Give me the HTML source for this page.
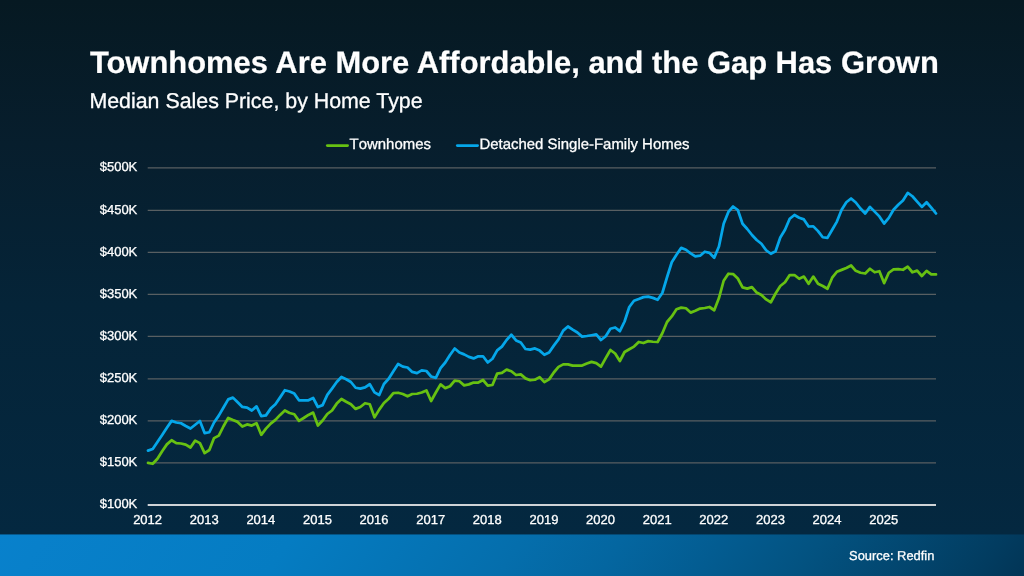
<!DOCTYPE html>
<html><head><meta charset="utf-8"><title>Townhomes Are More Affordable</title>
<style>
html,body{margin:0;padding:0;}
body{text-rendering:geometricPrecision;font-kerning:none;width:1024px;height:576px;overflow:hidden;position:relative;font-family:"Liberation Sans",sans-serif;color:#fff;
background:linear-gradient(180deg,#061922 0px,#071e2d 144px,#052438 304px,#042840 534px,#042840 576px);}
.footer{position:absolute;left:0;top:534px;width:1024px;height:42px;background:linear-gradient(125.0deg,rgb(8,129,204) 0%,rgb(8,128,202) 4.43%,rgb(5,124,194) 27.98%,rgb(5,110,172) 50.00%,rgb(4,102,160) 59.49%,rgb(3,92,145) 68.99%,rgb(3,82,128) 78.48%,rgb(2,60,96) 95.57%,rgb(2,53,86) 100%);}
.fedge{position:absolute;left:0;top:534px;width:1024px;height:1px;background:rgba(4,40,64,0.45);}
.txt{position:absolute;left:0;top:0;width:1024px;height:576px;opacity:0.999;will-change:opacity;}
.title{font-kerning:normal;position:absolute;left:89.9px;top:45.1px;font-size:30.92px;-webkit-text-stroke:0.22px #fff;font-weight:bold;white-space:nowrap;line-height:36px;}
.sub{font-kerning:normal;position:absolute;left:89.4px;top:87.65px;font-size:21.36px;-webkit-text-stroke:0.3px #fff;white-space:nowrap;line-height:26px;}
.leg{-webkit-text-stroke:0.3px #fff;position:absolute;top:136.3px;font-size:14.94px;line-height:18px;white-space:nowrap;}
.yl{-webkit-text-stroke:0.3px #fff;position:absolute;left:60px;width:77.3px;text-align:right;font-size:13px;line-height:16px;white-space:nowrap;}
.xl{-webkit-text-stroke:0.3px #fff;position:absolute;top:512.2px;width:60px;text-align:center;font-size:13px;line-height:16px;white-space:nowrap;}
.src{-webkit-text-stroke:0.3px #fff;position:absolute;left:849.1px;top:546.8px;font-size:12.9px;line-height:18px;white-space:nowrap;}
svg{position:absolute;left:0;top:0;}
</style></head><body>
<div class="footer"></div>
<div class="fedge"></div>
<div class="txt">
<div class="title">Townhomes Are More Affordable, and the Gap Has Grown</div>
<div class="sub">Median Sales Price, by Home Type</div>
<div class="leg" style="left:349.6px">Townhomes</div>
<div class="leg" style="left:479.4px">Detached Single-Family Homes</div>
<div class="yl" style="top:159.20px">$500K</div>
<div class="yl" style="top:201.80px">$450K</div>
<div class="yl" style="top:243.80px">$400K</div>
<div class="yl" style="top:285.80px">$350K</div>
<div class="yl" style="top:327.80px">$300K</div>
<div class="yl" style="top:370.30px">$250K</div>
<div class="yl" style="top:412.20px">$200K</div>
<div class="yl" style="top:454.20px">$150K</div>
<div class="yl" style="top:496.45px">$100K</div>
<div class="xl" style="left:117.60px">2012</div>
<div class="xl" style="left:174.22px">2013</div>
<div class="xl" style="left:230.85px">2014</div>
<div class="xl" style="left:287.47px">2015</div>
<div class="xl" style="left:344.09px">2016</div>
<div class="xl" style="left:400.71px">2017</div>
<div class="xl" style="left:457.34px">2018</div>
<div class="xl" style="left:513.96px">2019</div>
<div class="xl" style="left:570.58px">2020</div>
<div class="xl" style="left:627.20px">2021</div>
<div class="xl" style="left:683.83px">2022</div>
<div class="xl" style="left:740.45px">2023</div>
<div class="xl" style="left:797.07px">2024</div>
<div class="xl" style="left:853.70px">2025</div>
<div class="src">Source: Redfin</div>
</div>
<svg width="1024" height="576" viewBox="0 0 1024 576">
<line x1="147.7" x2="936.0" y1="167.75" y2="167.75" stroke="#585f62" stroke-width="1.25"/>
<line x1="147.7" x2="936.0" y1="210.35" y2="210.35" stroke="#585f62" stroke-width="1.25"/>
<line x1="147.7" x2="936.0" y1="252.35" y2="252.35" stroke="#585f62" stroke-width="1.25"/>
<line x1="147.7" x2="936.0" y1="294.35" y2="294.35" stroke="#585f62" stroke-width="1.25"/>
<line x1="147.7" x2="936.0" y1="336.35" y2="336.35" stroke="#585f62" stroke-width="1.25"/>
<line x1="147.7" x2="936.0" y1="378.85" y2="378.85" stroke="#585f62" stroke-width="1.25"/>
<line x1="147.7" x2="936.0" y1="420.75" y2="420.75" stroke="#585f62" stroke-width="1.25"/>
<line x1="147.7" x2="936.0" y1="462.75" y2="462.75" stroke="#585f62" stroke-width="1.25"/>
<line x1="147.7" x2="936.0" y1="505.0" y2="505.0" stroke="#cfd3d6" stroke-width="2.1"/>
<line x1="327.3" x2="347.6" y1="145.5" y2="145.5" stroke="#67c112" stroke-width="2.75" stroke-linecap="round"/>
<line x1="457.3" x2="477.6" y1="145.5" y2="145.5" stroke="#05a7ea" stroke-width="2.75" stroke-linecap="round"/>
<polyline fill="none" stroke="#67c112" stroke-width="2.75" stroke-linejoin="round" stroke-linecap="round" points="148.00,462.90 152.72,463.75 157.44,458.75 162.16,451.25 166.87,444.40 171.59,440.25 176.31,443.10 181.03,443.50 185.75,444.60 190.47,447.50 195.19,440.60 199.90,443.10 204.62,453.10 209.34,450.00 214.06,438.10 218.78,435.60 223.50,426.25 228.22,417.90 232.93,420.00 237.65,421.90 242.37,426.50 247.09,424.40 251.81,425.60 256.53,423.25 261.25,434.80 265.96,428.60 270.68,423.60 275.40,419.90 280.12,414.90 284.84,410.50 289.56,413.00 294.28,414.25 298.99,420.90 303.71,418.00 308.43,414.90 313.15,412.60 317.87,425.50 322.59,420.50 327.31,414.00 332.02,410.50 336.74,403.60 341.46,399.00 346.18,401.75 350.90,404.25 355.62,408.90 360.34,407.00 365.05,403.25 369.77,404.25 374.49,417.40 379.21,409.60 383.93,403.00 388.65,398.75 393.37,393.10 398.08,392.75 402.80,394.00 407.52,396.25 412.24,394.00 416.96,393.75 421.68,392.50 426.40,390.40 431.11,401.00 435.83,392.50 440.55,384.40 445.27,388.10 449.99,386.25 454.71,380.60 459.43,381.25 464.14,385.40 468.86,384.40 473.58,382.50 478.30,382.50 483.02,380.00 487.74,385.60 492.46,385.00 497.17,373.60 501.89,372.90 506.61,369.60 511.33,371.25 516.05,375.00 520.77,374.40 525.49,378.40 530.20,380.25 534.92,379.75 539.64,377.10 544.36,382.10 549.08,379.40 553.80,372.50 558.51,366.90 563.23,364.40 567.95,364.40 572.67,365.60 577.39,365.60 582.11,365.60 586.83,363.50 591.54,361.90 596.26,363.10 600.98,366.60 605.70,358.10 610.42,350.00 615.14,353.50 619.86,361.00 624.57,352.00 629.29,349.25 634.01,346.60 638.73,342.00 643.45,343.00 648.17,341.10 652.89,341.75 657.60,342.00 662.32,333.25 667.04,322.00 671.76,316.40 676.48,309.25 681.20,307.60 685.92,308.25 690.63,312.60 695.35,310.75 700.07,308.60 704.79,308.00 709.51,307.00 714.23,310.25 718.95,298.10 723.66,280.75 728.38,273.75 733.10,274.10 737.82,278.50 742.54,287.40 747.26,288.60 751.98,287.10 756.69,292.60 761.41,294.90 766.13,299.40 770.85,302.25 775.57,293.50 780.29,286.00 785.01,282.25 789.72,275.00 794.44,275.00 799.16,278.75 803.88,276.60 808.60,283.75 813.32,276.60 818.04,283.75 822.75,286.00 827.47,288.80 832.19,277.70 836.91,271.75 841.63,269.90 846.35,268.00 851.07,265.50 855.78,270.80 860.50,272.75 865.22,273.50 869.94,268.75 874.66,272.25 879.38,271.25 884.10,283.10 888.81,272.75 893.53,269.40 898.25,269.10 902.97,269.75 907.69,266.60 912.41,272.25 917.13,270.60 921.84,276.00 926.56,270.90 931.28,274.40 936.00,274.40"/>
<polyline fill="none" stroke="#05a7ea" stroke-width="2.75" stroke-linejoin="round" stroke-linecap="round" points="148.00,450.60 152.72,449.00 157.44,441.90 162.16,435.00 166.87,427.75 171.59,420.90 176.31,422.50 181.03,423.25 185.75,426.00 190.47,428.50 195.19,424.75 199.90,421.00 204.62,433.10 209.34,432.25 214.06,422.50 218.78,415.60 223.50,407.50 228.22,399.40 232.93,397.60 237.65,402.30 242.37,406.90 247.09,407.60 251.81,410.50 256.53,406.40 261.25,416.10 265.96,415.40 270.68,408.60 275.40,404.25 280.12,397.40 284.84,390.25 289.56,391.50 294.28,393.60 298.99,400.25 303.71,400.25 308.43,400.25 313.15,398.00 317.87,407.00 322.59,405.10 327.31,394.90 332.02,388.60 336.74,382.00 341.46,377.00 346.18,379.25 350.90,382.00 355.62,387.75 360.34,388.60 365.05,387.40 369.77,384.25 374.49,392.40 379.21,395.00 383.93,384.00 388.65,378.75 393.37,371.25 398.08,364.00 402.80,366.60 407.52,367.50 412.24,371.90 416.96,373.10 421.68,370.40 426.40,371.00 431.11,376.50 435.83,377.90 440.55,368.10 445.27,362.50 449.99,355.00 454.71,348.50 459.43,352.50 464.14,354.40 468.86,356.90 473.58,358.40 478.30,356.25 483.02,356.25 487.74,362.50 492.46,358.75 497.17,350.30 501.89,346.60 506.61,340.00 511.33,334.75 516.05,340.40 520.77,342.50 525.49,349.00 530.20,349.60 534.92,348.40 539.64,350.60 544.36,354.75 549.08,352.50 553.80,345.60 558.51,339.40 563.23,330.60 567.95,326.50 572.67,329.60 577.39,332.50 582.11,336.60 586.83,336.00 591.54,335.25 596.26,334.40 600.98,340.00 605.70,336.25 610.42,328.75 615.14,327.50 619.86,331.20 624.57,321.50 629.29,307.00 634.01,300.75 638.73,299.00 643.45,297.10 648.17,296.70 652.89,297.90 657.60,299.75 662.32,293.00 667.04,277.25 671.76,262.25 676.48,254.75 681.20,247.90 685.92,249.75 690.63,253.30 695.35,256.30 700.07,255.70 704.79,251.75 709.51,252.90 714.23,257.70 718.95,246.50 723.66,223.75 728.38,211.90 733.10,206.50 737.82,210.00 742.54,223.75 747.26,229.00 751.98,235.00 756.69,240.00 761.41,243.75 766.13,250.25 770.85,253.75 775.57,251.25 780.29,237.50 785.01,229.75 789.72,218.75 794.44,215.00 799.16,217.75 803.88,219.40 808.60,226.50 813.32,226.40 818.04,231.10 822.75,237.25 827.47,237.90 832.19,229.75 836.91,221.60 841.63,209.75 846.35,202.25 851.07,198.50 855.78,202.50 860.50,208.50 865.22,213.50 869.94,206.90 874.66,211.60 879.38,216.40 884.10,223.50 888.81,217.90 893.53,209.75 898.25,204.75 902.97,200.40 907.69,192.90 912.41,196.25 917.13,201.60 921.84,206.90 926.56,202.25 931.28,207.60 936.00,213.50"/>
</svg>
</body></html>
